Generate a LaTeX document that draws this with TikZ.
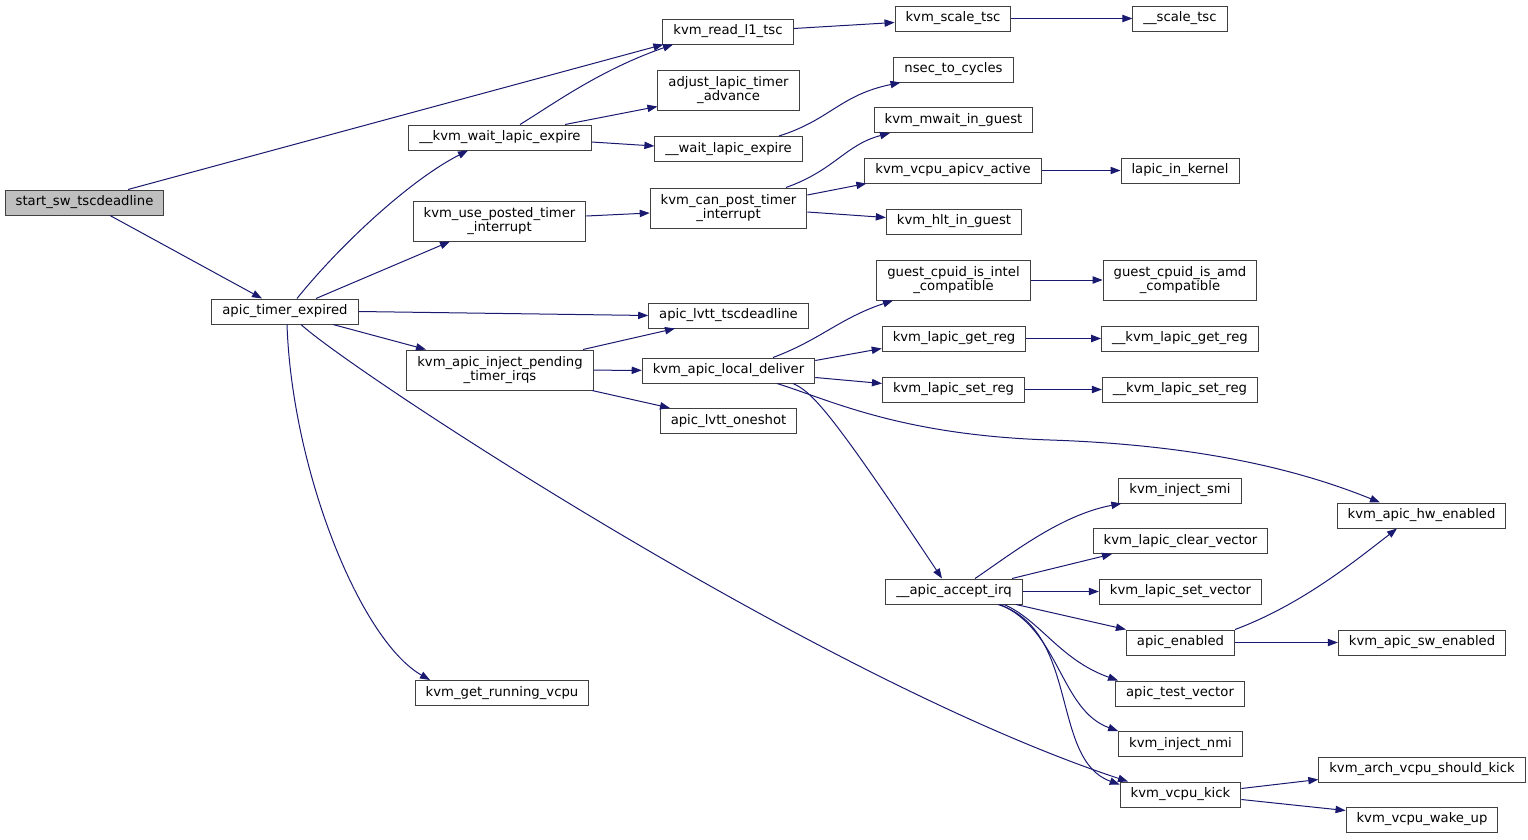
\documentclass[tikz,border=0pt]{standalone}
\usepackage{fontspec}
\newfontfamily\dejavu{DejaVu Sans}
\usetikzlibrary{arrows.meta, calc}
\definecolor{edgeblue}{HTML}{191970}
\definecolor{boxline}{HTML}{404040}
\definecolor{rootfill}{HTML}{BFBFBF}

\begin{document}
\begin{tikzpicture}[
    x=0.75pt, y=-0.75pt,
    fn/.style={draw=boxline, line width=0.75pt, fill=white, inner xsep=7.9pt,
               inner ysep=3pt, minimum height=18.75pt, align=center,
               font=\dejavu\fontsize{9.9pt}{10.5pt}\selectfont},
    fn2/.style={fn, minimum height=30pt},
    root/.style={fn, fill=rootfill},
    call/.style={edgeblue, line width=0.75pt, -{Triangle[length=7.5pt, width=5.5pt]}},
]
\useasboundingbox (0,0) rectangle (1528,839);

% column 0 and 1
\node[root] (ssw) at (84.5,202.5) {start\_sw\_tscdeadline};
\node[fn] (ate) at (285,311.5) {apic\_timer\_expired};

% column 2
\node[fn]  (kwle)    at (500,137.5) {\_\_kvm\_wait\_lapic\_expire};
\node[fn2] (kupti)   at (499.5,221) {kvm\_use\_posted\_timer\\\_interrupt};
\node[fn2] (kaiptri) at (500,370)   {kvm\_apic\_inject\_pending\\\_timer\_irqs};
\node[fn]  (kgrv)    at (502,693)   {kvm\_get\_running\_vcpu};

% column 3
\node[fn]  (krlt)   at (728,31.5)   {kvm\_read\_l1\_tsc};
\node[fn2] (alta)   at (728.5,90.5) {adjust\_lapic\_timer\\\_advance};
\node[fn]  (wle)    at (728.5,149)  {\_\_wait\_lapic\_expire};
\node[fn2] (kcpti)  at (728.5,208)  {kvm\_can\_post\_timer\\\_interrupt};
\node[fn]  (alttsc) at (728.5,315.5) {apic\_lvtt\_tscdeadline};
\node[fn]  (kald)   at (728.5,370.5) {kvm\_apic\_local\_deliver};
\node[fn]  (alos)   at (728.5,421)  {apic\_lvtt\_oneshot};

% column 4
\node[fn]  (kst)  at (953,18.5)   {kvm\_scale\_tsc};
\node[fn]  (ntc)  at (953.5,69.5) {nsec\_to\_cycles};
\node[fn]  (kmig) at (953.5,120)  {kvm\_mwait\_in\_guest};
\node[fn]  (kvaa) at (953,170.5)  {kvm\_vcpu\_apicv\_active};
\node[fn]  (khig) at (954,221.5)  {kvm\_hlt\_in\_guest};
\node[fn2] (gcii) at (953.5,280)  {guest\_cpuid\_is\_intel\\\_compatible};
\node[fn]  (klgr) at (954,338.5)  {kvm\_lapic\_get\_reg};
\node[fn]  (klsr) at (953.5,389.5) {kvm\_lapic\_set\_reg};
\node[fn]  (aai)  at (954,591.5)  {\_\_apic\_accept\_irq};

% column 5
\node[fn]  (st)   at (1180,18.5)   {\_\_scale\_tsc};
\node[fn]  (lik)  at (1180,170.5)  {lapic\_in\_kernel};
\node[fn2] (gcia) at (1180,280)    {guest\_cpuid\_is\_amd\\\_compatible};
\node[fn]  (kkgr) at (1180,338.5)  {\_\_kvm\_lapic\_get\_reg};
\node[fn]  (kksr) at (1180,389.5)  {\_\_kvm\_lapic\_set\_reg};
\node[fn]  (kis)  at (1180,490.5)  {kvm\_inject\_smi};
\node[fn]  (klcv) at (1180.5,541)  {kvm\_lapic\_clear\_vector};
\node[fn]  (klsv) at (1180.5,591.5) {kvm\_lapic\_set\_vector};
\node[fn]  (ae)   at (1180.5,642.5) {apic\_enabled};
\node[fn]  (atv)  at (1180,693.5)  {apic\_test\_vector};
\node[fn]  (kin)  at (1180.5,744)  {kvm\_inject\_nmi};
\node[fn]  (kvk)  at (1180.5,794.5) {kvm\_vcpu\_kick};

% column 6
\node[fn] (kahe)  at (1421.5,515.5) {kvm\_apic\_hw\_enabled};
\node[fn] (kase)  at (1422,642.5)   {kvm\_apic\_sw\_enabled};
\node[fn] (kavsk) at (1422,769.5)   {kvm\_arch\_vcpu\_should\_kick};
\node[fn] (kvwu)  at (1422,819.5)   {kvm\_vcpu\_wake\_up};

% straight calls on one row
\foreach \a/\b in {kst/st, kvaa/lik, gcii/gcia, klgr/kkgr, klsr/kksr,
                   kaiptri/kald, aai/klsv, ae/kase}{
    \draw[call] (\a) -- (\b);
}

% from start_sw_tscdeadline
\draw[call] ($(ssw.north)+(43.5,0)$) -- ($(krlt.south west)+(1,0)$);
\draw[call] ($(ssw.south)+(25.5,0)$) -- ($(ate.north)+(-23,0)$);

% from apic_timer_expired
\draw[call] ($(ate.north)+(12,0)$) .. controls (340,245) and (410,180) .. ($(kwle.south)+(-32,0)$);
\draw[call] ($(ate.north)+(31,0)$) -- ($(kupti.south)+(-49.5,0)$);
\draw[call] (ate.east) -- (alttsc.west);
\draw[call] ($(ate.south)+(48,0)$) -- ($(kaiptri.north)+(-74,0)$);
\draw[call] ($(ate.south)+(2,0)$) .. controls (292,470) and (360,640) .. ($(kgrv.north)+(-72,0)$);
\draw[call] ($(ate.south)+(16,0)$) .. controls (350,370) and (820,680) .. ($(kvk.north)+(-52.5,0)$);

% from __kvm_wait_lapic_expire
\draw[call] ($(kwle.north)+(20,0)$) .. controls (555,103) and (600,70) .. ($(krlt.south)+(-55,0)$);
\draw[call] ($(kwle.north)+(65,0)$) -- ($(alta.west)+(0,16)$);
\draw[call] ($(kwle.east)+(0,4.5)$) -- ($(wle.west)+(0,-3)$);
\draw[call] ($(wle.north)+(50.5,0)$) .. controls (830,120) and (840,95) .. ($(ntc.south)+(-53,0)$);

% from the timer interrupt helpers
\draw[call] ($(kupti.east)+(0,-5)$) -- ($(kcpti.west)+(0,5)$);
\draw[call] ($(kcpti.north)+(57.5,0)$) .. controls (835,170) and (845,145) .. ($(kmig.south)+(-63.5,0)$);
\draw[call] ($(kcpti.east)+(0,-13)$) -- ($(kvaa.south west)+(2,0)$);
\draw[call] ($(kcpti.east)+(0,4)$) -- ($(khig.west)+(0,-4)$);
\draw[call] ($(krlt.east)+(0,-3)$) -- ($(kst.west)+(0,4)$);

% from kvm_apic_inject_pending_timer_irqs
\draw[call] ($(kaiptri.north)+(83,0)$) -- ($(alttsc.south)+(-53.5,0)$);
\draw[call] ($(kaiptri.south)+(92,0)$) -- ($(alos.north)+(-58.5,0)$);

% from kvm_apic_local_deliver
\draw[call] ($(kald.north)+(44.5,0)$) .. controls (820,340) and (840,318) .. ($(gcii.south)+(-60.5,0)$);
\draw[call] ($(kald.east)+(0,-10)$) -- ($(klgr.west)+(0,10)$);
\draw[call] ($(kald.east)+(0,7)$) -- ($(klsr.west)+(0,-6)$);
\draw[call] ($(kald.south)+(48.5,0)$) .. controls (830,400) and (900,435) .. (1050,440)
    .. controls (1200,445) and (1300,470) .. ($(kahe.north)+(-41.5,0)$);
\draw[call] ($(kald.south)+(64.5,0)$) .. controls (812,392) and (830,410) .. ($(aai.north)+(-12,0)$);

% from __apic_accept_irq
\draw[call] ($(aai.north)+(21,0)$) .. controls (1010,555) and (1060,515) .. ($(kis.south west)+(3,0)$);
\draw[call] ($(aai.north)+(58,0)$) -- ($(klcv.south)+(-68.5,0)$);
\draw[call] ($(aai.south)+(62,0)$) -- (ae.north west);
\draw[call] ($(aai.south)+(50,0)$) .. controls (1040,620) and (1060,660) .. ($(atv.north west)+(3,0)$);
\draw[call] ($(aai.south)+(46,0)$) .. controls (1060,630) and (1060,710) .. (kin.north west);
\draw[call] ($(aai.south)+(44,0)$) .. controls (1080,630) and (1050,760) .. ($(kvk.north west)+(0,3)$);

% from apic_enabled and kvm_vcpu_kick
\draw[call] (ae.north east) .. controls (1300,605) and (1350,565) .. ($(kahe.south)+(-24.5,0)$);
\draw[call] ($(kvk.east)+(0,-6)$) -- ($(kavsk.west)+(0,10)$);
\draw[call] ($(kvk.east)+(0,5)$) -- ($(kvwu.west)+(0,-9)$);
\end{tikzpicture}
\end{document}
